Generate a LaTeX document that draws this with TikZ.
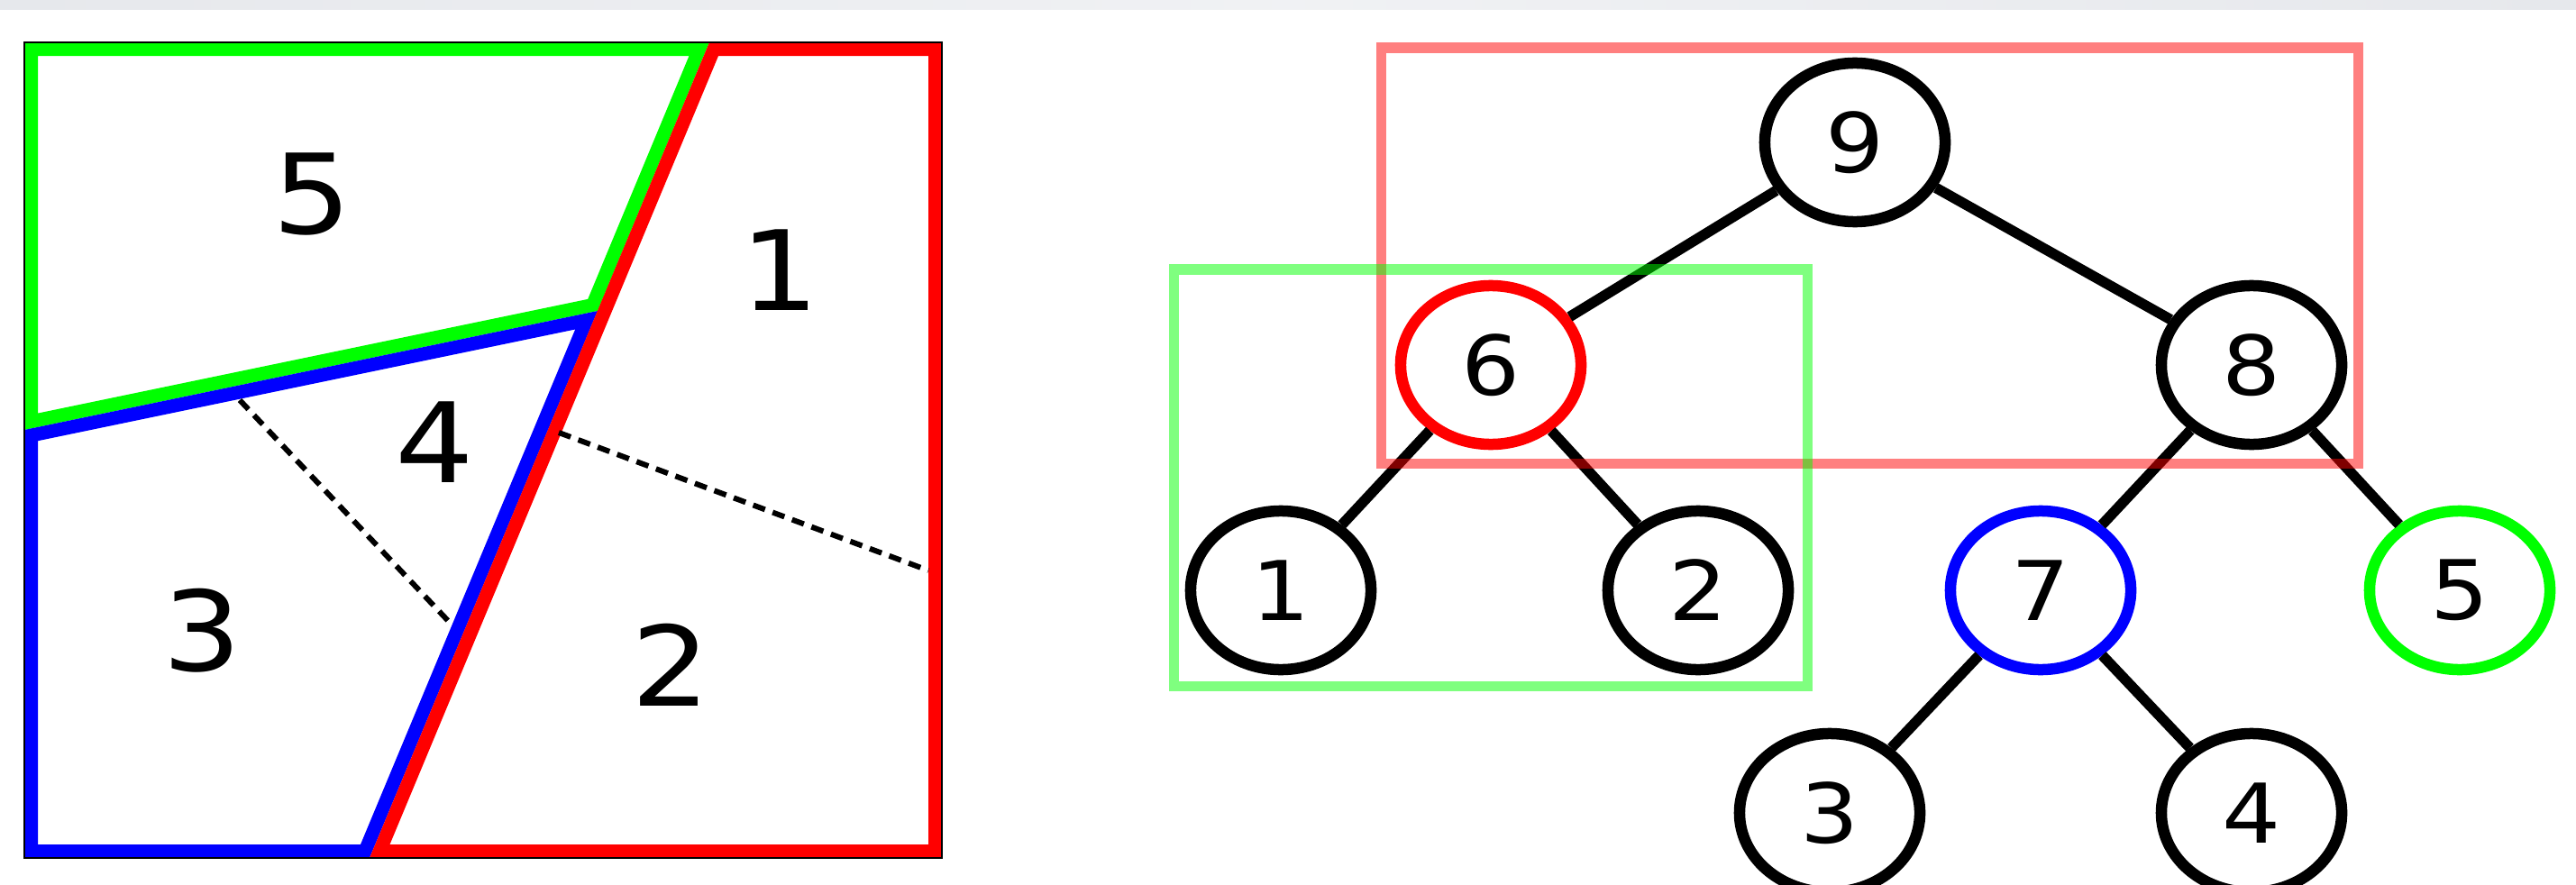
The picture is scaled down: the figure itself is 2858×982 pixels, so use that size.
\documentclass[tikz,border=0pt]{standalone}
\usepackage{fontspec}
\setmainfont[FakeStretch=1.12]{DejaVu Sans}
\usetikzlibrary{shapes.geometric}
\definecolor{lgreen}{RGB}{0,255,0}
\definecolor{lred}{RGB}{255,0,0}
\definecolor{lblue}{RGB}{0,0,255}
\definecolor{topband}{RGB}{230,232,236}
\tikzset{
  region/.style={line width=0.30cm, line join=miter},
  partition/.style={line width=0.06cm, dash pattern=on 0.14cm off 0.09cm},
  regionlabel/.style={font=\fontsize{35}{40}\selectfont, inner sep=0pt},
  treenode/.style={ellipse, draw, line width=0.125cm, minimum width=2cm, minimum height=1.76cm, inner sep=0pt, fill=white, font=\fontsize{26}{31}\selectfont},
  treeedge/.style={line width=0.115cm},
  groupbox/.style={line width=0.11cm, draw opacity=0.5},
}
\begin{document}
\begin{tikzpicture}[x=0.01cm, y=-0.01cm]
\useasboundingbox (0,0) rectangle (2858,982);
\shade[left color=topband, right color=topband, middle color=topband!60] (0,0) rectangle (2858,11);

% ---- left panel: partition of the square ----
\coordinate (TL) at (27,47);
\coordinate (TR) at (1045,47);
\coordinate (BR) at (1045,952);
\coordinate (BL) at (27,952);
\coordinate (D1) at (787,47);
\coordinate (D2) at (410,952);
\coordinate (J) at (663,345);
\coordinate (L) at (27,477);

\begin{scope}
  \clip (TL) -- (D1) -- (J) -- (L) -- cycle;
  \draw[region, lgreen] (TL) -- (D1) -- (J) -- (L) -- cycle;
\end{scope}
\begin{scope}
  \clip (L) -- (J) -- (D2) -- (BL) -- cycle;
  \draw[region, lblue] (L) -- (J) -- (D2) -- (BL) -- cycle;
\end{scope}
\begin{scope}
  \clip (D1) -- (TR) -- (BR) -- (D2) -- cycle;
  \draw[region, lred] (D1) -- (TR) -- (BR) -- (D2) -- cycle;
\end{scope}
\draw[line width=0.025cm] (TL) rectangle (BR);

\coordinate (pa1) at (266,444);
\coordinate (pa2) at (502,694);
\coordinate (pb1) at (620,480);
\coordinate (pb2) at (1030,633);
\draw[partition] (pa1) -- (pa2);
\draw[partition] (pb1) -- (pb2);

\node[regionlabel] (r5) at (346,216) {5};
\node[regionlabel] (r1) at (865,300) {1};
\node[regionlabel] (r4) at (482,491) {4};
\node[regionlabel] (r3) at (224,700) {3};
\node[regionlabel] (r2) at (744,738) {2};

% ---- right panel: tree ----
\node[treenode] (n9) at (2058,158) {9};
\node[treenode, draw=lred] (n6) at (1654,405) {6};
\node[treenode] (n8) at (2498,405) {8};
\node[treenode] (n1) at (1421,655) {1};
\node[treenode] (n2) at (1884,655) {2};
\node[treenode, draw=lblue] (n7) at (2264,655) {7};
\node[treenode, draw=lgreen] (n5) at (2729,655) {5};
\node[treenode] (n3) at (2030,902) {3};
\node[treenode] (n4) at (2498,902) {4};

\draw[treeedge] (n9) -- (n6);
\draw[treeedge] (n9) -- (n8);
\draw[treeedge] (n6) -- (n1);
\draw[treeedge] (n6) -- (n2);
\draw[treeedge] (n8) -- (n7);
\draw[treeedge] (n8) -- (n5);
\draw[treeedge] (n7) -- (n3);
\draw[treeedge] (n7) -- (n4);

\draw[groupbox, lred] (1532,53) rectangle (2616,514);
\draw[groupbox, lgreen] (1302,299) rectangle (2005,761);
\end{tikzpicture}
\end{document}
